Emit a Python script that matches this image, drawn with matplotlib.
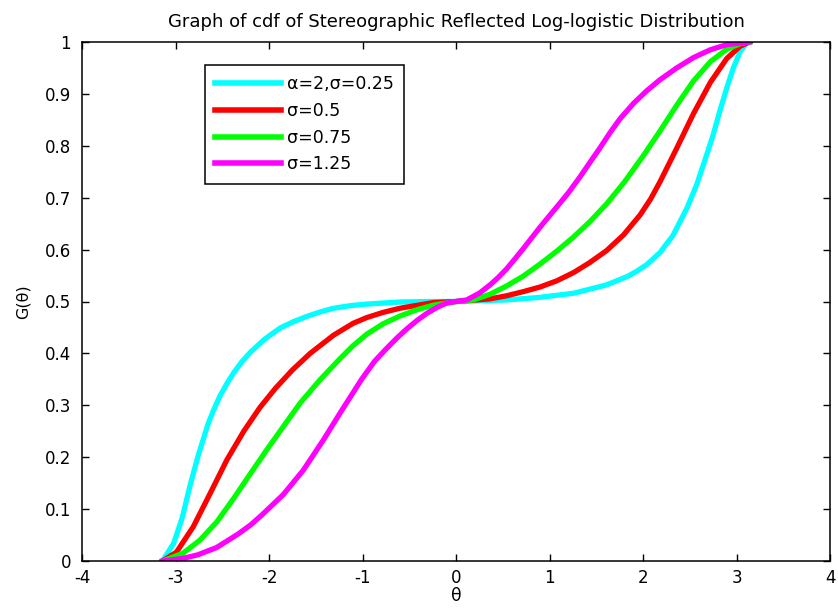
import matplotlib
matplotlib.use("Agg")
import matplotlib.pyplot as plt

plt.rcParams['font.family'] = ['DejaVu Sans']
plt.rcParams['axes.unicode_minus'] = False

title = "Graph of cdf of Stereographic Reflected Log-logistic Distribution"
labels = ["\u03b1=2,\u03c3=0.25", "\u03c3=0.5", "\u03c3=0.75", "\u03c3=1.25"]
colors = ["#00ffff", "#ff0000", "#00ff00", "#ff00ff"]

x_cyan = [-3.14, -3.02, -2.93, -2.845, -2.756, -2.65, -2.59, -2.524, -2.45, -2.38, -2.29,
          -2.20, -2.05, -1.88, -1.74, -1.60, -1.45, -1.31, -1.13, -0.955, -0.60, -0.30, 0.0,
          0.54, 0.90, 1.26, 1.61, 1.83, 1.93, 2.04, 2.18, 2.32, 2.47, 2.574, 2.68, 2.75, 2.82,
          2.895, 2.966, 3.04, 3.11, 3.14]
y_cyan = [0.0, 0.034, 0.082, 0.145, 0.204, 0.265, 0.292, 0.318, 0.342, 0.362, 0.384,
          0.402, 0.427, 0.449, 0.461, 0.471, 0.480, 0.487, 0.492, 0.495, 0.499, 0.500, 0.500,
          0.503, 0.508, 0.516, 0.532, 0.548, 0.558, 0.571, 0.594, 0.627, 0.680, 0.725, 0.782,
          0.821, 0.866, 0.911, 0.950, 0.982, 0.998, 1.0]

x_red = [-3.14, -2.99, -2.81, -2.63, -2.45, -2.27, -2.096, -1.93, -1.75, -1.56, -1.31,
         -1.10, -0.955, -0.78, -0.60, -0.24, 0.0, 0.36, 0.54, 0.72, 0.90, 1.08, 1.26, 1.43,
         1.61, 1.79, 1.97, 2.08, 2.18, 2.36, 2.54, 2.72, 2.895, 3.04, 3.14]
y_red = [0.0, 0.017, 0.066, 0.130, 0.195, 0.250, 0.296, 0.333, 0.368, 0.400, 0.435,
         0.458, 0.469, 0.479, 0.487, 0.498, 0.500, 0.505, 0.511, 0.519, 0.528, 0.540, 0.556,
         0.575, 0.598, 0.628, 0.667, 0.697, 0.730, 0.795, 0.862, 0.922, 0.968, 0.992, 1.0]

x_green = [-3.14, -2.92, -2.74, -2.56, -2.38, -2.20, -2.025, -1.847, -1.668, -1.455, -1.24,
           -1.10, -0.955, -0.78, -0.60, -0.42, -0.24, 0.0, 0.185, 0.364, 0.542, 0.72, 0.898,
           1.077, 1.255, 1.433, 1.61, 1.80, 2.0, 2.18, 2.36, 2.54, 2.72, 2.895, 3.04, 3.14]
y_green = [0.0, 0.015, 0.040, 0.075, 0.120, 0.168, 0.214, 0.259, 0.304, 0.349, 0.390,
           0.415, 0.437, 0.457, 0.472, 0.484, 0.493, 0.500, 0.503, 0.514, 0.530, 0.549, 0.572,
           0.597, 0.624, 0.654, 0.688, 0.730, 0.780, 0.828, 0.878, 0.925, 0.962, 0.986, 0.997, 1.0]

x_mag = [-3.14, -2.92, -2.76, -2.56, -2.33, -2.2, -2.08, -1.847, -1.633, -1.419, -1.24, -1.01,
         -0.87, -0.74, -0.63, -0.527, -0.42, -0.313, -0.2, -0.1, 0.0, 0.114, 0.25, 0.364,
         0.45, 0.542, 0.63, 0.72, 0.898, 1.077, 1.2, 1.326, 1.44, 1.54, 1.65, 1.754, 1.9,
         2.04, 2.18, 2.36, 2.54, 2.72, 2.895, 3.14]
y_mag = [0.0, 0.005, 0.012, 0.026, 0.052, 0.069, 0.088, 0.128, 0.175, 0.233, 0.285, 0.350,
         0.385, 0.410, 0.430, 0.447, 0.463, 0.477, 0.489, 0.497, 0.500, 0.503, 0.516, 0.532,
         0.546, 0.563, 0.582, 0.602, 0.643, 0.682, 0.709, 0.740, 0.770, 0.796, 0.826, 0.852,
         0.882, 0.906, 0.927, 0.950, 0.970, 0.985, 0.995, 1.0]

x_ticks = [-4, -3, -2, -1, 0, 1, 2, 3, 4]
y_ticks = [0, 0.1, 0.2, 0.3, 0.4, 0.5, 0.6, 0.7, 0.8, 0.9, 1]
y_ticklabels = ["0", "0.1", "0.2", "0.3", "0.4", "0.5", "0.6", "0.7", "0.8", "0.9", "1"]

fig = plt.figure(figsize=(8.38, 6.10), dpi=100)
ax = fig.add_axes([82/838, 49/610, 748/838, 519/610])

series = [(x_cyan, y_cyan), (x_red, y_red), (x_green, y_green), (x_mag, y_mag)]
for (xs, ys), c, lab in zip(series, colors, labels):
    ax.plot(xs, ys, color=c, lw=3.8, label=lab, solid_joinstyle='round')

ax.set_xlim(-4, 4)
ax.set_ylim(0, 1)
ax.set_xticks(x_ticks)
ax.set_xticklabels([str(t) for t in x_ticks])
ax.set_yticks(y_ticks)
ax.set_yticklabels(y_ticklabels)
ax.tick_params(direction='in', length=5, width=1, top=True, right=True, labelsize=12)
ax.tick_params(axis='x', pad=6)
ax.tick_params(axis='y', pad=8)
for s in ax.spines.values():
    s.set_linewidth(1.1)

ax.set_title(title, fontsize=13, pad=11)
ax.set_xlabel("\u03b8", fontsize=12.5, labelpad=0)
ax.set_ylabel("G(\u03b8)", fontsize=11.5, labelpad=10)

leg = ax.legend(loc='upper left', bbox_to_anchor=(0.164, 0.956), borderaxespad=0,
                fontsize=12.5, handlelength=3.8, labelspacing=0.5, handletextpad=0.35,
                borderpad=0.6, fancybox=False, framealpha=1, edgecolor='black')
leg.get_frame().set_linewidth(1.1)
for l in leg.get_lines():
    l.set_linewidth(4)

fig.savefig("out.png", dpi=100)
